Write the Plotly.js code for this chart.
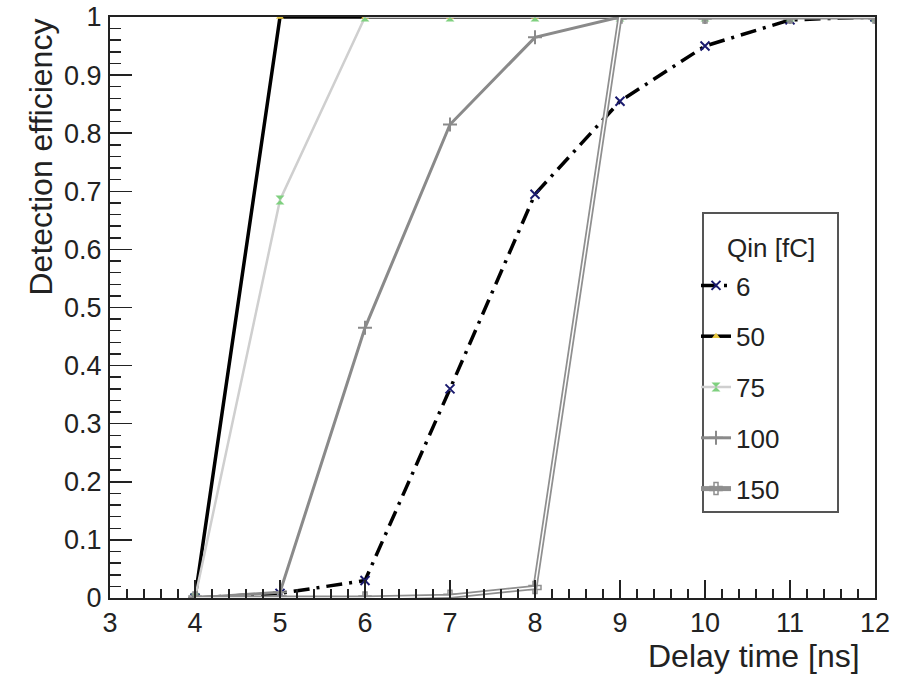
<!DOCTYPE html>
<html>
<head>
<meta charset="utf-8">
<script src="https://cdn.plot.ly/plotly-3.0.1.min.js"></script>
<style>html,body{margin:0;padding:0;background:#fff;}#plot{width:905px;height:675px;}</style>
</head>
<body>
<div id="plot"></div>
<script>
const delay = [4, 5, 6, 7, 8, 9, 10, 11, 12];
const q6   = [0, 0.008, 0.03, 0.36, 0.695, 0.855, 0.95, 0.995, 1];
const q50  = [0, 1, 1, 1, 1, 1, 1, 1, 1];
const q75  = [0, 0.685, 1, 1, 1, 1, 1, 1, 1];
const q100 = [0, 0.01, 0.465, 0.815, 0.965, 1, 1, 1, 1];
const q150 = [0, 0, 0, 0.003, 0.018, 1, 1, 1, 1];
const seriesNames = ["6", "50", "75", "100", "150"];
const legendTitle = "Qin [fC]";
const xTitle = "Delay time [ns]";
const yTitle = "Detection efficiency";
const xTicks = [3, 4, 5, 6, 7, 8, 9, 10, 11, 12];
const yTicks = [0, 0.1, 0.2, 0.3, 0.4, 0.5, 0.6, 0.7, 0.8, 0.9, 1];
const yTickText = ["0", "0.1", "0.2", "0.3", "0.4", "0.5", "0.6", "0.7", "0.8", "0.9", "1"];

const FONT = "Liberation Sans, Arial, Helvetica, sans-serif";
const TXT = "#222";

const traces = [
  {x: delay, y: q6, name: seriesNames[0], mode: "lines+markers", legendgroup: "a",
   line: {color: "#000", width: 3.5, dash: "16px,7px,3px,7px"},
   marker: {symbol: "x-thin", size: 9, color: "#1a1a6e", line: {width: 2, color: "#1a1a6e"}}},
  {x: delay, y: q50, name: seriesNames[1], mode: "lines+markers", legendgroup: "b",
   line: {color: "#000", width: 3.5},
   marker: {symbol: "triangle-up", size: 7, color: "#e8c840"}},
  {x: delay, y: q75, name: seriesNames[2], mode: "lines+markers", legendgroup: "c",
   line: {color: "#cfcfcf", width: 2.5},
   marker: {symbol: "hourglass", size: 9, color: "#7fd07f"}},
  {x: delay, y: q100, name: seriesNames[3], mode: "lines+markers", legendgroup: "d",
   line: {color: "#8a8a8a", width: 3},
   marker: {symbol: "cross-thin", size: 10, color: "#8a8a8a", line: {width: 2, color: "#8a8a8a"}}},
  {x: delay, y: q150, name: seriesNames[4], mode: "lines+markers", legendgroup: "e",
   line: {color: "#8f8f8f", width: 5},
   marker: {symbol: "cross-open", size: 10, color: "#8f8f8f", line: {width: 1.5, color: "#8f8f8f"}}},
  {x: delay, y: q150, name: seriesNames[4], mode: "lines", legendgroup: "e", showlegend: false,
   line: {color: "#ffffff", width: 1.5}, hoverinfo: "skip"}
];

const layout = {
  width: 905, height: 675,
  margin: {l: 110, r: 30, t: 17, b: 77},
  paper_bgcolor: "#fff", plot_bgcolor: "#fff",
  showlegend: true,
  font: {family: FONT, size: 26, color: TXT},
  xaxis: {
    range: [3, 12], tickmode: "array", tickvals: xTicks, ticktext: xTicks.map(String),
    ticks: "inside", ticklen: 18, tickwidth: 1.5, tickcolor: "#222",
    minor: {dtick: 0.2, ticks: "inside", ticklen: 9, tickwidth: 1.5, tickcolor: "#222"},
    showgrid: false, zeroline: false,
    showline: true, linecolor: "#222", linewidth: 2, mirror: true,
    tickfont: {family: FONT, size: 27, color: TXT}, ticklabelstandoff: 0
  },
  yaxis: {
    range: [0, 1], tickmode: "array", tickvals: yTicks, ticktext: yTickText,
    ticks: "inside", ticklen: 22, tickwidth: 1.5, tickcolor: "#222",
    minor: {dtick: 0.02, ticks: "inside", ticklen: 11, tickwidth: 1.5, tickcolor: "#222"},
    showgrid: false, zeroline: false,
    showline: true, linecolor: "#222", linewidth: 2, mirror: true,
    tickfont: {family: FONT, size: 27, color: TXT}, ticklabelstandoff: 1
  },
  legend: {
    x: (696 - 110) / 765, y: (598 - 262) / 581, xanchor: "left", yanchor: "top",
    bgcolor: "rgba(0,0,0,0)", borderwidth: 0,
    font: {family: FONT, size: 26, color: TXT},
    tracegroupgap: 14, itemwidth: 30
  },
  shapes: [
    {type: "rect", xref: "paper", yref: "paper", layer: "below",
     x0: (703 - 110) / 765, x1: (838 - 110) / 765,
     y0: (598 - 512) / 581, y1: (598 - 213) / 581,
     line: {color: "#555", width: 2}, fillcolor: "#fff"}
  ],
  annotations: [
    {text: legendTitle, xref: "paper", yref: "paper", x: (771 - 110) / 765, y: (598 - 248) / 581,
     xanchor: "center", yanchor: "middle", showarrow: false,
     font: {family: FONT, size: 26, color: TXT}},
    {text: xTitle, xref: "paper", yref: "paper", x: (862 - 110) / 765, y: (598 - 656) / 581,
     xanchor: "right", yanchor: "middle", showarrow: false,
     font: {family: FONT, size: 32, color: TXT}},
    {text: yTitle, xref: "paper", yref: "paper", x: (40 - 110) / 765, y: 1.0,
     xanchor: "center", yanchor: "top", textangle: -90, showarrow: false,
     font: {family: FONT, size: 32, color: TXT}}
  ]
};

Plotly.newPlot("plot", traces, layout, {displayModeBar: false, staticPlot: true});
</script>
</body>
</html>
